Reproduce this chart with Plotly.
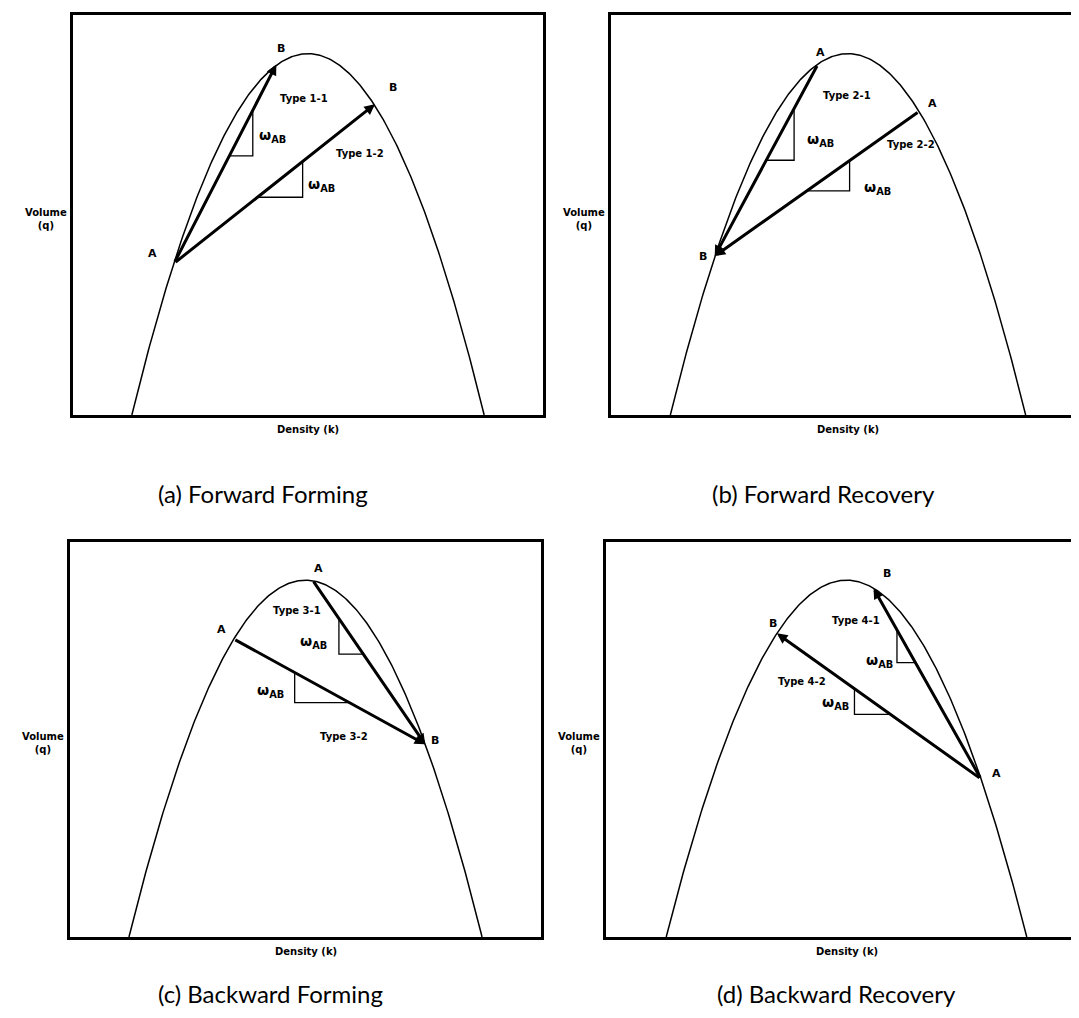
import numpy as np
import plotly.graph_objects as go

W, H = 1079, 1018

# ---------------- data (normalised density k / volume q) ----------------
JAM_DENSITY = 1.0     # k_j
CAPACITY = 1.0        # q_max

captions = ["(a) Forward Forming", "(b) Forward Recovery",
            "(c) Backward Forming", "(d) Backward Recovery"]

# Panel (a) Forward Forming
a_types = ["Type 1-1", "Type 1-2"]
a_A_k = [0.12, 0.12]
a_A_q = [0.42, 0.42]
a_B_k = [0.41, 0.69]
a_B_q = [0.97, 0.86]

# Panel (b) Forward Recovery
b_types = ["Type 2-1", "Type 2-2"]
b_A_k = [0.415, 0.70]
b_A_q = [0.97, 0.84]
b_B_k = [0.125, 0.125]
b_B_q = [0.44, 0.44]

# Panel (c) Backward Forming
c_types = ["Type 3-1", "Type 3-2"]
c_A_k = [0.52, 0.297]
c_A_q = [1.00, 0.835]
c_B_k = [0.839, 0.839]
c_B_q = [0.54, 0.54]

# Panel (d) Backward Recovery
d_types = ["Type 4-1", "Type 4-2"]
d_A_k = [0.873, 0.873]
d_A_q = [0.443, 0.443]
d_B_k = [0.575, 0.307]
d_B_q = [0.977, 0.851]

# ---------------- layout / style ----------------
SMALL = "DejaVu Sans"
CAP = "Lato"
domains = [
    ([65 / W, 535 / W], [1 - 407 / H, 1 - 7 / H]),
    ([603 / W, 1077 / W], [1 - 407 / H, 1 - 7 / H]),
    ([62 / W, 533 / W], [1 - 929 / H, 1 - 534 / H]),
    ([598 / W, 1.0], [1 - 929 / H, 1 - 534 / H]),
]
cap_pos = [(255, 486), (815, 486), (262, 985), (828, 985)]

# triangle fractions along each arrow (from lower-density end)
tri_frac = [
    [(0.54, 0.77), (0.415, 0.64)],
    [(0.50, 0.77), (0.45, 0.66)],
    [(0.234, 0.45), (0.318, 0.604)],
    [(0.218, 0.39), (0.38, 0.556)],
]
# omega label: (xanchor, xshift, yshift) relative to triangle corner
omega_off = [
    [("left", 4, 20), ("left", 3, 12)],
    [("left", 11, 20), ("left", 12, 3)],
    [("right", -10, 12), ("right", -9, 12)],
    [("right", -2, 2), ("right", -3, 11)],
]
# type label centre offsets relative to triangle corner
type_off = [
    [(51, 57), (57, 44)],
    [(53, 65), (61, 46)],
    [(-42, 44), (49, -34)],
    [(-41, 42), (-52, 33)],
]
# endpoint labels: (letter, which ('A'/'B'), arrow index, xshift, yshift)
pt_labels = [
    [("A", "A", 0, -22, 10), ("B", "B", 0, 5, 16), ("B", "B", 1, 18, 17)],
    [("A", "A", 0, 3, 12), ("A", "A", 1, 13, 8), ("B", "B", 0, -12, 0)],
    [("A", "A", 0, 6, 12), ("A", "A", 1, -12, 10), ("B", "B", 0, 10, 4)],
    [("A", "A", 0, 16, 5), ("B", "B", 0, 13, 15), ("B", "B", 1, -4, 10)],
]

panels = [
    (a_types, a_A_k, a_A_q, a_B_k, a_B_q),
    (b_types, b_A_k, b_A_q, b_B_k, b_B_q),
    (c_types, c_A_k, c_A_q, c_B_k, c_B_q),
    (d_types, d_A_k, d_A_q, d_B_k, d_B_q),
]

fig = go.Figure()
annotations = []

k_curve = np.linspace(0, JAM_DENSITY, 301)
q_curve = 4 * CAPACITY * (k_curve / JAM_DENSITY) * (1 - k_curve / JAM_DENSITY)

for i, (types, Ak, Aq, Bk, Bq) in enumerate(panels):
    n = "" if i == 0 else str(i + 1)
    xa, ya = "x" + n, "y" + n
    # fundamental diagram curve
    fig.add_trace(go.Scatter(x=k_curve, y=q_curve, mode="lines",
                             line=dict(color="black", width=1.5),
                             xaxis=xa, yaxis=ya, hoverinfo="skip",
                             showlegend=False))
    for j in range(len(types)):
        # arrow from A to B
        annotations.append(dict(
            x=Bk[j], y=Bq[j], ax=Ak[j], ay=Aq[j],
            xref=xa, yref=ya, axref=xa, ayref=ya, text="",
            showarrow=True, arrowhead=2, arrowsize=0.7, arrowwidth=3,
            arrowcolor="black", standoff=0, startstandoff=0))
        # slope triangle
        if Ak[j] < Bk[j]:
            Lk, Lq, Hk, Hq = Ak[j], Aq[j], Bk[j], Bq[j]
        else:
            Lk, Lq, Hk, Hq = Bk[j], Bq[j], Ak[j], Aq[j]
        s1, s2 = tri_frac[i][j]
        p1 = (Lk + s1 * (Hk - Lk), Lq + s1 * (Hq - Lq))
        p2 = (Lk + s2 * (Hk - Lk), Lq + s2 * (Hq - Lq))
        if Hq > Lq:
            corner = (p2[0], p1[1])
        else:
            corner = (p1[0], p2[1])
        fig.add_trace(go.Scatter(x=[p1[0], corner[0], p2[0]],
                                 y=[p1[1], corner[1], p2[1]],
                                 mode="lines", line=dict(color="black", width=1.3),
                                 xaxis=xa, yaxis=ya, hoverinfo="skip",
                                 showlegend=False))
        xanc, xs, ys = omega_off[i][j]
        annotations.append(dict(
            x=corner[0], y=corner[1], xref=xa, yref=ya, showarrow=False,
            text="<b>ω<sub>AB</sub></b>", xanchor=xanc, yanchor="middle",
            xshift=xs, yshift=ys,
            font=dict(family=SMALL, size=14, color="black")))
        tx, ty = type_off[i][j]
        annotations.append(dict(
            x=corner[0], y=corner[1], xref=xa, yref=ya, showarrow=False,
            text="<b>" + types[j] + "</b>", xanchor="center", yanchor="middle",
            xshift=tx, yshift=ty,
            font=dict(family=SMALL, size=10, color="black")))
    for letter, which, j, xs, ys in pt_labels[i]:
        px_ = Ak[j] if which == "A" else Bk[j]
        py_ = Aq[j] if which == "A" else Bq[j]
        annotations.append(dict(
            x=px_, y=py_, xref=xa, yref=ya, showarrow=False,
            text="<b>" + letter + "</b>", xanchor="center", yanchor="middle",
            xshift=xs, yshift=ys,
            font=dict(family=SMALL, size=11, color="black")))
    # axis titles
    annotations.append(dict(
        x=0.5, y=0, xref=xa + " domain", yref=ya + " domain", showarrow=False,
        text="<b>Density (k)</b>", xanchor="center", yanchor="middle",
        yshift=-14, font=dict(family=SMALL, size=10, color="black")))
    annotations.append(dict(
        x=0, y=0.49, xref=xa + " domain", yref=ya + " domain", showarrow=False,
        text="<b>Volume</b><br><b>(q)</b>", xanchor="right", yanchor="middle",
        align="center", xshift=-4,
        font=dict(family=SMALL, size=10, color="black")))
    # caption
    cx, cy = cap_pos[i]
    annotations.append(dict(
        x=cx / W, y=1 - cy / H, xref="paper", yref="paper", showarrow=False,
        text=captions[i], xanchor="center", yanchor="middle",
        font=dict(family=CAP, size=24, color="black")))

    xd, yd = domains[i]
    axis_common = dict(showgrid=False, zeroline=False, showticklabels=False,
                       ticks="", showline=True, linecolor="black", linewidth=2.5,
                       fixedrange=True)
    fig.update_layout(**{
        ("xaxis" + n): dict(domain=xd, range=[-0.167, 1.167], mirror=True,
                            anchor=ya, **axis_common),
        ("yaxis" + n): dict(domain=yd, range=[0, 1.107], mirror=(i != 3),
                            anchor=xa, **axis_common),
    })

fig.update_layout(width=W, height=H, margin=dict(l=0, r=0, t=0, b=0),
                  paper_bgcolor="white", plot_bgcolor="white",
                  annotations=annotations, showlegend=False)

fig.write_html("out.html")
